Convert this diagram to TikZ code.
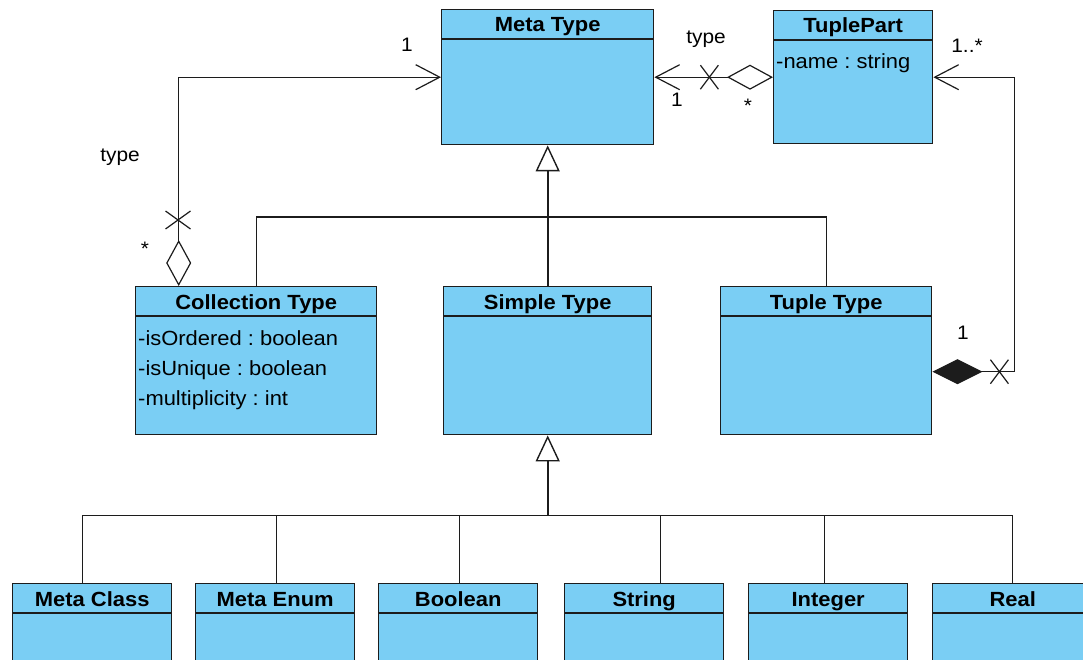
\documentclass[tikz,border=0pt]{standalone}
\usepackage{fontspec}
\setmainfont{Liberation Sans}[FakeStretch=1.07]
\frenchspacing
\usetikzlibrary{arrows.meta,calc}

\definecolor{classfill}{RGB}{122,206,244}
\definecolor{classline}{RGB}{28,28,28}

\tikzset{
  umlbox/.style={draw=classline, line width=1.4pt, fill=classfill, anchor=north west, inner sep=0pt},
  divider/.style={draw=classline, line width=1.4pt},
  classtitle/.style={font=\fontsize{20.5}{24}\selectfont\bfseries, anchor=base, inner sep=0pt},
  attr/.style={font=\fontsize{20.5}{24}\selectfont, anchor=base west, inner sep=0pt},
  lbl/.style={font=\fontsize{19.5}{22}\selectfont, inner sep=0pt},
  conn/.style={draw=classline, line width=1.2pt},
  gen/.style={draw=classline, line width=2pt, -{Triangle[open, length=26pt, width=24pt, line width=1.4pt]}},
  aggstart/.style={{Diamond[open, length=46pt, width=25pt, line width=1.2pt]}-{Straight Barb[length=24pt, width=25pt, line width=1.2pt]}},
  compstart/.style={{Diamond[length=50pt, width=25pt]}-{Straight Barb[length=24pt, width=25pt, line width=1.2pt]}},
  vcross/.pic={\draw[conn] (-12.5,-9) -- (12.5,9) (-12.5,9) -- (12.5,-9);},
  hcross/.pic={\draw[conn] (-9,-12) -- (9,12) (-9,12) -- (9,-12);}
}

% class box: name, x, y, width, height, title
\newcommand{\umlclass}[6]{%
  \node[umlbox, minimum width=#4pt, minimum height=#5pt] (#1) at (#2,#3) {};
  \draw[divider] ($(#1.north west)+(0,30)$) -- ($(#1.north east)+(0,30)$);
  \node[classtitle] (#1-title) at ($(#1.north)+(0,23)$) {#6};
}

\begin{document}
\begin{tikzpicture}[x=1pt,y=-1pt]
\useasboundingbox (0,0) rectangle (1083,660);
\fill[white] (0,0) rectangle (1083,660);
\clip (0,0) rectangle (1083,660);

% classes
\umlclass{mt}{441}{9}{212}{135}{Meta Type}
\umlclass{tp}{773}{10}{159}{133}{TuplePart}
\umlclass{ct}{135}{286}{241}{148}{Collection Type}
\umlclass{st}{443}{286}{208}{148}{Simple Type}
\umlclass{tt}{720}{286}{211}{148}{Tuple Type}
\umlclass{mc}{12}{583}{159}{100}{Meta Class}
\umlclass{me}{195}{583}{159}{100}{Meta Enum}
\umlclass{bo}{378}{583}{159}{100}{Boolean}
\umlclass{sg}{564}{583}{159}{100}{String}
\umlclass{ig}{748}{583}{159}{100}{Integer}
\umlclass{re}{932}{583}{160}{100}{Real}

% attributes
\node[attr] (tp-a1) at ($(tp.north west)+(3,59)$) {-name : string};
\node[attr] (ct-a1) at ($(ct.north west)+(3,59)$) {-isOrdered : boolean};
\node[attr] (ct-a2) at ($(ct.north west)+(3,89)$) {-isUnique : boolean};
\node[attr] (ct-a3) at ($(ct.north west)+(3,119)$) {-multiplicity : int};

% generalizations to Meta Type
\coordinate (j1) at ($(st.north)+(0,-69)$);
\draw[gen] (st.north) -- (mt.south);
\draw[conn] (ct.north) |- (j1) -| (tt.north);

% generalizations to Simple Type
\coordinate (j2) at ($(st.south)+(0,80)$);
\draw[gen] (j2) -- (st.south);
\foreach \n/\dx in {mc/-9.5, me/1.5, bo/1.5, sg/16.5, ig/-3.5, re/0}
  \draw[conn] ([xshift=\dx pt]\n.north) |- (j2);

% associations
\draw[conn, aggstart] ([xshift=-77.5pt]ct.north) |- (mt.west);
\draw[conn, aggstart] (tp.west) -- (mt.east);
\coordinate (rr) at ($(tp.east)+(81,0)$);
\draw[conn, compstart] ([yshift=-11pt]tt.east) -| (rr) -- (tp.east);

% navigability crosses
\pic at ($(ct.north west)+(43,-66)$) {vcross};
\pic at ($(mt.east)+(55,0)$) {hcross};
\pic at ($(tt.east)+(67,11)$) {hcross};

% role and multiplicity labels
\node[lbl] (l1) at (407,45) {1};
\node[lbl] (l2) at (120,157) {type};
\node[lbl] (l3) at (145,249) {*};
\node[lbl] (l4) at (706,39) {type};
\node[lbl] (l5) at (677,100) {1};
\node[lbl] (l6) at (748,106) {*};
\node[lbl] (l7) at (967,46) {1..*};
\node[lbl] (l8) at (963,333) {1};
\end{tikzpicture}
\end{document}
